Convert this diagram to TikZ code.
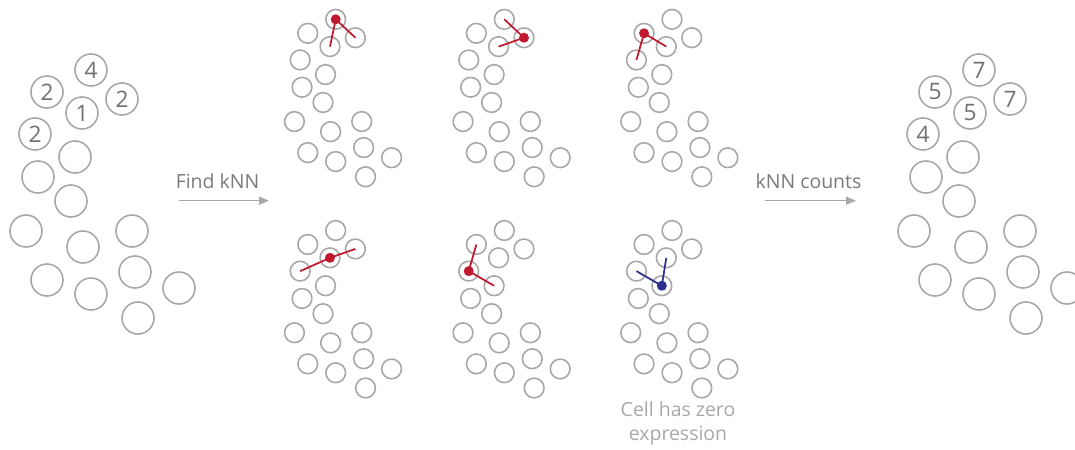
\documentclass[tikz,border=0pt]{standalone}
\usepackage{fontspec}
\setmainfont{Open Sans}
\usetikzlibrary{arrows.meta}
\definecolor{cellgray}{HTML}{A8A8A8}
\definecolor{txtgray}{HTML}{7A7A7A}
\definecolor{numgray}{HTML}{707070}
\definecolor{notegray}{HTML}{A8A8A8}
\definecolor{knnred}{HTML}{C0182F}
\definecolor{knnblue}{HTML}{2B3090}
\def\cellpos{0/91/70,1/47/92,2/122/99,3/82/113,4/35/134,5/75/157,6/38/177,7/71/201,8/26/231,9/132/231,10/83/247,11/47/280,12/135/272,13/91/294,14/179/288,15/138/318}
\newcommand\smallgroup[3]{%
  \begin{scope}[shift={(#2,#3)},scale=0.635]
    \foreach \i/\px/\py in \cellpos {\node[smallcell] (#1c\i) at ({\px-91},{\py-70}) {};}
  \end{scope}}
\newcommand\biggroup[2]{%
  \begin{scope}[shift={(#2,0)}]
    \foreach \i/\px/\py in \cellpos {\node[bigcell] (#1c\i) at (\px,\py) {};}
  \end{scope}}
\begin{document}
\begin{tikzpicture}[x=0.75pt,y=-0.75pt,
  bigcell/.style={circle,draw=cellgray,line width=1.2pt,minimum size=24pt,inner sep=0pt},
  smallcell/.style={circle,draw=cellgray,line width=1.2pt,minimum size=14.8pt,inner sep=0pt},
  numtext/.style={text=numgray,font=\fontsize{17}{17}\selectfont,inner sep=0pt},
  redline/.style={draw=knnred,line width=1.3pt},
  blueline/.style={draw=knnblue,line width=1.3pt},
  reddot/.style={circle,fill=knnred,minimum size=7.5pt,inner sep=0pt},
  bluedot/.style={circle,fill=knnblue,minimum size=7.5pt,inner sep=0pt},
  steplabel/.style={text=txtgray,font=\fontsize{14.6}{17}\selectfont,anchor=base,inner sep=0pt},
  notelabel/.style={text=notegray,font=\fontsize{14.6}{17}\selectfont,anchor=base,inner sep=0pt},
  steparrow/.style={draw=cellgray,line width=1.1pt,-{Triangle[length=7.5pt,width=6pt]}}]
\useasboundingbox (0,0) rectangle (1075,450);
% left group with counts
\biggroup{L}{0}
\node[numtext] at (Lc0) {4};
\node[numtext] at (Lc1) {2};
\node[numtext] at (Lc2) {2};
\node[numtext] at (Lc3) {1};
\node[numtext] at (Lc4) {2};
% right group with kNN counts
\biggroup{R}{888}
\node[numtext] at (Rc0) {7};
\node[numtext] at (Rc1) {5};
\node[numtext] at (Rc2) {7};
\node[numtext] at (Rc3) {5};
\node[numtext] at (Rc4) {4};
% six kNN panels
\smallgroup{A}{335.7}{19.3}
\smallgroup{B}{504.3}{19.3}
\smallgroup{C}{672}{19.3}
\smallgroup{D}{335.7}{230.5}
\smallgroup{E}{504.3}{230.5}
\smallgroup{F}{672}{230.5}
\draw[redline] (Ac0.center) -- (Ac3.center);
\draw[redline] (Ac0.center) -- (Ac2.center);
\node[reddot] (Aq) at (Ac0.center) {};
\draw[redline] (Bc2.center) -- (Bc0.center);
\draw[redline] (Bc2.center) -- (Bc3.center);
\node[reddot] (Bq) at (Bc2.center) {};
\draw[redline] (Cc1.center) -- (Cc3.center);
\draw[redline] (Cc1.center) -- (Cc4.center);
\node[reddot] (Cq) at (Cc1.center) {};
\draw[redline] (Dc3.center) -- (Dc2.center);
\draw[redline] (Dc3.center) -- (Dc4.center);
\node[reddot] (Dq) at (Dc3.center) {};
\draw[redline] (Ec4.center) -- (Ec1.center);
\draw[redline] (Ec4.center) -- (Ec5.center);
\node[reddot] (Eq) at (Ec4.center) {};
\draw[blueline] (Fc5.center) -- (Fc3.center);
\draw[blueline] (Fc5.center) -- (Fc4.center);
\node[bluedot] (Fq) at (Fc5.center) {};
% arrows and labels
\node[steplabel] (find) at (217.5,188.5) {Find kNN};
\coordinate (a1s) at (179,200.7);
\coordinate (a1e) at (269,200.7);
\draw[steparrow] (a1s) -- (a1e);
\node[steplabel] (counts) at (808.5,188.5) {kNN counts};
\coordinate (a2s) at (765,200.7);
\coordinate (a2e) at (856,200.7);
\draw[steparrow] (a2s) -- (a2e);
\node[notelabel] (note1) at (678,416.7) {Cell has zero};
\node[notelabel] (note2) at (678,440) {expression};
\end{tikzpicture}
\end{document}
